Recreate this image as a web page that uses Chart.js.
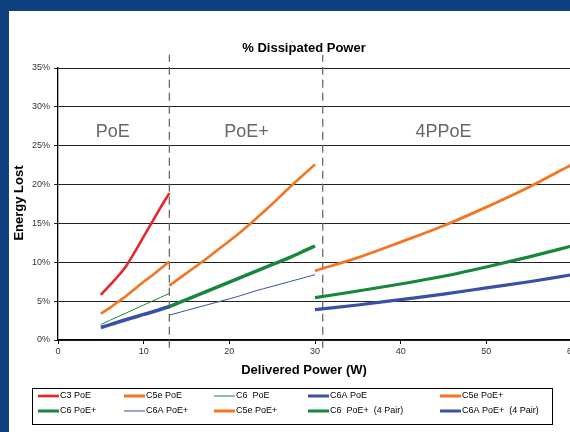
<!DOCTYPE html>
<html>
<head>
<meta charset="utf-8">
<script src="https://cdn.jsdelivr.net/npm/chart.js@4/dist/chart.umd.min.js"></script>
<style>
  html, body { margin: 0; padding: 0; width: 570px; height: 432px; overflow: hidden; background: #0d417f; }
  #wrap { position: absolute; left: 9px; top: 11px; width: 580px; height: 421px; background: #fff; }
</style>
</head>
<body>
<div id="wrap"><canvas id="chart" width="580" height="421"></canvas></div>
<script>
// data (x = delivered power W, y = % energy lost)
const xPoE = [5, 6, 7, 8, 9, 10, 11, 12, 13];
const c3PoE = [5.8, 7.0, 8.2, 9.6, 11.4, 13.3, 15.2, 17.1, 18.9];
const c5ePoE = [3.4, 4.1, 4.9, 5.7, 6.6, 7.5, 8.3, 9.2, 10.1];
const c6PoE = [2.0, 2.5, 3.0, 3.5, 4.0, 4.5, 5.0, 5.5, 6.0];
const c6aPoE = [1.6, 1.95, 2.3, 2.65, 2.95, 3.3, 3.6, 3.95, 4.3];

const xPoEPlus = [13, 15, 17, 19, 21, 23, 25, 27, 29, 30];
const c5ePoEPlus = [7.0, 8.6, 10.2, 11.9, 13.6, 15.5, 17.5, 19.6, 21.6, 22.6];
const c6PoEPlus = [4.3, 5.2, 6.1, 7.0, 7.9, 8.8, 9.7, 10.6, 11.6, 12.1];
const c6aPoEPlus = [3.2, 3.8, 4.4, 5.0, 5.6, 6.3, 6.9, 7.5, 8.1, 8.4];

const x4Pair = [30, 35, 40, 45, 50, 55, 60];
const c5e4Pair = [8.9, 10.6, 12.6, 14.7, 17.1, 19.7, 22.6];
const c64Pair = [5.45, 6.3, 7.2, 8.2, 9.4, 10.7, 12.1];
const c6a4Pair = [3.9, 4.5, 5.2, 5.9, 6.7, 7.5, 8.4];

const seriesLabels = ['C3 PoE', 'C5e PoE', 'C6  PoE', 'C6A PoE', 'C5e PoE+',
  'C6 PoE+', 'C6A PoE+', 'C5e PoE+', 'C6  PoE+  (4 Pair)', 'C6A PoE+  (4 Pair)'];

const regionLabels = ['PoE', 'PoE+', '4PPoE'];
const regionLabelX = [6.4, 22, 45];
const regionLabelY = 26.7;
const regionBounds = [13, 30.9];

const yTicks = [0, 5, 10, 15, 20, 25, 30, 35];
const xTicks = [0, 10, 20, 30, 40, 50, 60];

const RED = '#ec2427', ORANGE = '#f47422', GREEN = '#16873c', BLUE = '#3a4fa6';
const FONT = "'Liberation Sans', Arial, sans-serif";

const pts = (xs, ys) => xs.map((x, i) => ({ x, y: ys[i] }));

const series = [
  [xPoE, c3PoE, RED, 2.6, 2.6],
  [xPoE, c5ePoE, ORANGE, 2.6, 3],
  [xPoE, c6PoE, GREEN, 1, 1],
  [xPoE, c6aPoE, BLUE, 3.6, 3],
  [xPoEPlus, c5ePoEPlus, ORANGE, 2.6, 3],
  [xPoEPlus, c6PoEPlus, GREEN, 3.4, 3],
  [xPoEPlus, c6aPoEPlus, BLUE, 1, 1],
  [x4Pair, c5e4Pair, ORANGE, 2.8, 3],
  [x4Pair, c64Pair, GREEN, 3.2, 3],
  [x4Pair, c6a4Pair, BLUE, 3.2, 3],
];

const datasets = series.map(([xs, ys, color, w, lw], i) => ({
  label: seriesLabels[i],
  data: pts(xs, ys),
  borderColor: color,
  borderWidth: w,
  legendWidth: lw,
  pointRadius: 0,
  cubicInterpolationMode: 'monotone',
  fill: false,
}));

// dashed region separators
regionBounds.forEach((b) => {
  datasets.push({
    label: '',
    separator: true,
    data: [{ x: b, y: -1 }, { x: b, y: 36.7 }],
    borderColor: '#6a6a6a',
    borderWidth: 1.3,
    borderDash: [8, 5],
    pointRadius: 0,
    clip: false,
  });
});

const textPlugin = {
  id: 'texts',
  afterDraw(chart) {
    const ctx = chart.ctx;
    const xs = chart.scales.x, ys = chart.scales.y;
    ctx.save();
    ctx.fillStyle = '#000';
    ctx.textAlign = 'center';
    ctx.textBaseline = 'middle';
    ctx.font = 'bold 13px ' + FONT;
    ctx.fillText('% Dissipated Power', 295, 37);
    ctx.fillText('Delivered Power (W)', 295, 359);
    ctx.save();
    ctx.translate(10, (chart.chartArea.top + chart.chartArea.bottom) / 2 - 1);
    ctx.rotate(-Math.PI / 2);
    ctx.fillText('Energy Lost', 0, 0);
    ctx.restore();

    ctx.font = '18px ' + FONT;
    ctx.fillStyle = '#666';
    regionLabels.forEach((t, i) => {
      ctx.fillText(t, xs.getPixelForValue(regionLabelX[i]), ys.getPixelForValue(regionLabelY));
    });

    // legend box
    ctx.strokeStyle = '#000';
    ctx.lineWidth = 1;
    ctx.strokeRect(23.5, 377.5, 520, 36);
    const cols = [29, 115, 205, 299, 431];
    const rows = [385, 400];
    ctx.font = '9px ' + FONT;
    ctx.textAlign = 'left';
    chart.data.datasets.filter((d) => !d.separator).forEach((d, i) => {
      const cx = cols[i % 5], cy = rows[Math.floor(i / 5)];
      ctx.strokeStyle = d.borderColor;
      ctx.lineWidth = d.legendWidth;
      ctx.beginPath();
      ctx.moveTo(cx, cy);
      ctx.lineTo(cx + 21, cy);
      ctx.stroke();
      ctx.fillStyle = '#000';
      ctx.fillText(d.label, cx + 22, cy);
    });
    ctx.restore();
  },
};

new Chart(document.getElementById('chart'), {
  type: 'line',
  data: { datasets },
  options: {
    responsive: false,
    animation: false,
    layout: { padding: { left: 0, top: 57, right: 17, bottom: 0 } },
    plugins: { legend: { display: false }, title: { display: false }, tooltip: { enabled: false } },
    scales: {
      x: {
        type: 'linear',
        min: 0,
        max: 60,
        afterFit: (s) => { s.height = 92; },
        afterBuildTicks: (s) => { s.ticks = xTicks.map((v) => ({ value: v })); },
        border: { color: '#000', width: 1.3 },
        grid: { drawOnChartArea: false, tickLength: 4, color: '#000' },
        ticks: { color: '#333', font: { family: FONT, size: 9 }, padding: 2, maxRotation: 0 },
      },
      y: {
        min: 0,
        max: 35,
        afterFit: (s) => { s.width = 49; },
        afterBuildTicks: (s) => { s.ticks = yTicks.map((v) => ({ value: v })); },
        border: { color: '#000', width: 1.3 },
        grid: { color: '#222', lineWidth: 1, tickLength: 4 },
        ticks: { color: '#333', font: { family: FONT, size: 9 }, padding: 4, callback: (v) => v + '%' },
      },
    },
  },
  plugins: [textPlugin],
});
</script>
</body>
</html>
